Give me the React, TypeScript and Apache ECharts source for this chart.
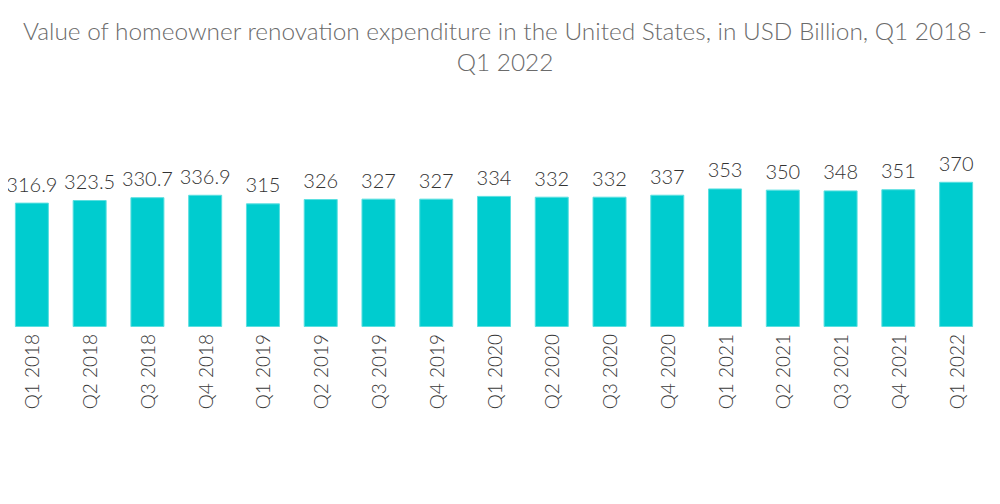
import React, { useEffect, useRef } from "react";
import * as echarts from "echarts";

const categories = [
  "Q1 2018", "Q2 2018", "Q3 2018", "Q4 2018",
  "Q1 2019", "Q2 2019", "Q3 2019", "Q4 2019",
  "Q1 2020", "Q2 2020", "Q3 2020", "Q4 2020",
  "Q1 2021", "Q2 2021", "Q3 2021", "Q4 2021",
  "Q1 2022",
];
const values = [
  316.9, 323.5, 330.7, 336.9,
  315, 326, 327, 327,
  334, 332, 332, 337,
  353, 350, 348, 351,
  370,
];
const titleText =
  "Value of homeowner renovation expenditure in the United States, in USD Billion, Q1 2018 -\nQ1 2022";

export default function App() {
  const ref = useRef<HTMLDivElement>(null);
  useEffect(() => {
    if (!ref.current) return;
    const chart = echarts.init(ref.current, undefined, { renderer: "svg" });
    chart.setOption({
      animation: false,
      title: {
        text: titleText,
        left: 500,
        top: 10,
        textAlign: "center",
        textStyle: {
          fontFamily: "Lato",
          fontSize: 24.4,
          fontWeight: 300,
          color: "#6b6b6b",
          lineHeight: 31,
        },
      },
      grid: { left: 3, right: 15, top: 170, bottom: 177, containLabel: false },
      xAxis: {
        type: "category",
        data: categories,
        axisLine: { show: false },
        axisTick: { show: false },
        axisLabel: {
          rotate: 90,
          interval: 0,
          margin: 7,
          fontFamily: "Lato",
          fontSize: 19,
          fontWeight: 300,
          color: "#3a3a3a",
        },
      },
      yAxis: {
        type: "value",
        min: 0,
        max: 400,
        show: false,
      },
      series: [
        {
          type: "bar",
          data: values,
          barWidth: 34,
          itemStyle: { color: "#00CCCF", borderColor: "#5adfe0", borderWidth: 1 },
          label: {
            show: true,
            position: "top",
            distance: 9,
            fontFamily: "Lato",
            fontSize: 20,
            fontWeight: 300,
            color: "#333",
          },
        },
      ],
    });
    return () => chart.dispose();
  }, []);
  return <div ref={ref} style={{ width: 1000, height: 504, margin: -8 }} />;
}
